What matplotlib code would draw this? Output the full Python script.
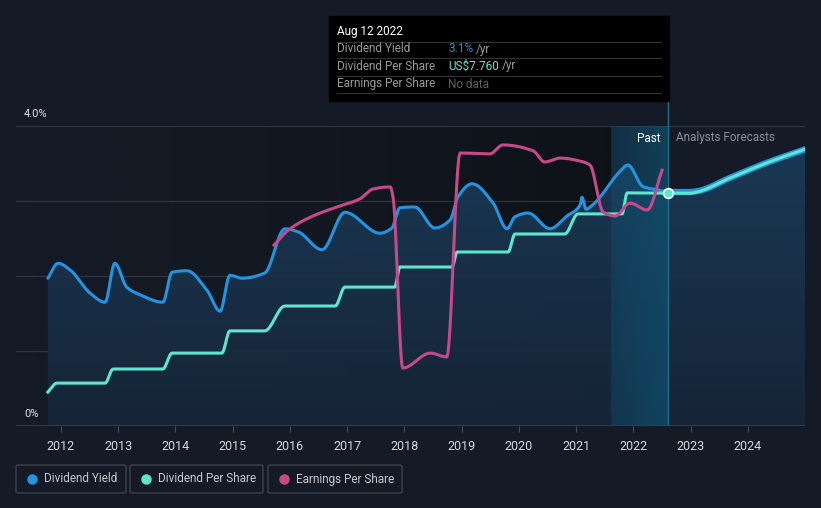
#!/usr/bin/env python3
import numpy as np
import matplotlib
matplotlib.use('Agg')
import matplotlib.pyplot as plt
from matplotlib.patches import Rectangle, FancyBboxPatch

plt.rcParams['font.family'] = ['Roboto', 'DejaVu Sans']

# dividend yield, % (past)
yield_years = [2011.77, 2011.95, 2012.16, 2012.51, 2012.77, 2012.94, 2013.15, 2013.38,
               2013.78, 2013.94, 2014.20, 2014.55, 2014.78, 2014.95, 2015.16, 2015.56,
               2015.91, 2016.14, 2016.56, 2016.96, 2017.57, 2017.78, 2017.92, 2018.18,
               2018.53, 2018.80, 2018.93, 2019.18, 2019.55, 2019.79, 2019.93, 2020.16,
               2020.54, 2020.84, 2021.07, 2021.10, 2021.17, 2021.29, 2021.76, 2021.90,
               2022.17, 2022.41, 2022.61]
yield_pct = [1.97, 2.17, 2.08, 1.77, 1.65, 2.17, 1.85, 1.75,
             1.65, 2.05, 2.07, 1.81, 1.53, 2.01, 1.97, 2.04,
             2.63, 2.59, 2.35, 2.85, 2.57, 2.64, 2.91, 2.92,
             2.64, 2.75, 3.05, 3.23, 2.97, 2.63, 2.79, 2.84,
             2.63, 2.80, 2.95, 3.05, 2.89, 2.95, 3.39, 3.48,
             3.19, 3.15, 3.12]

# forecasts
fc_years = [2022.61, 2022.99, 2023.11, 2023.69, 2024.33, 2025.00]
fc_yield = [3.12, 3.12, 3.13, 3.31, 3.51, 3.69]
fc_dps = [7.76, 7.76, 7.80, 8.27, 8.77, 9.23]

# dividend per share, US$
dps_years = [2011.77, 2011.93, 2012.77, 2012.91, 2013.78, 2013.94, 2014.81, 2014.95,
             2015.56, 2015.91, 2016.79, 2016.96, 2017.83, 2017.92, 2018.83, 2018.92,
             2019.81, 2019.93, 2020.80, 2021.03, 2021.80, 2021.89, 2022.61]
dps = [1.13, 1.43, 1.43, 1.90, 1.90, 2.43, 2.43, 3.17,
       3.17, 4.00, 4.00, 4.63, 4.63, 5.30, 5.30, 5.80,
       5.80, 6.40, 6.40, 7.07, 7.07, 7.77, 7.76]

# earnings per share, US$
eps_years = [2015.72, 2015.97, 2016.40, 2016.82, 2017.22, 2017.45, 2017.75, 2017.80,
             2017.97, 2018.45, 2018.74, 2018.97, 2019.49, 2019.72, 2020.25, 2020.45,
             2020.72, 2021.07, 2021.24, 2021.47, 2021.68, 2021.94, 2022.24, 2022.50]
eps = [6.03, 6.53, 7.00, 7.30, 7.57, 7.90, 7.97, 7.63,
       1.93, 2.43, 2.30, 9.10, 9.07, 9.37, 9.17, 8.80,
       8.93, 8.83, 8.70, 7.13, 7.00, 7.43, 7.20, 8.53]

year_ticks = list(range(2012, 2025))
past_start = 2021.61
today = 2022.61

BG = '#151b26'
BLUE = '#2394df'
TEAL = '#5ee6cf'
PINK = '#c6498a'


def smooth(xs, ys, n=12):
    # monotone cubic curve through the points (like d3 curveMonotoneX), drawing only
    x = np.asarray(xs, float)
    y = np.asarray(ys, float)
    h = np.diff(x)
    d = np.diff(y) / h
    m = np.zeros_like(y)
    m[0], m[-1] = d[0], d[-1]
    for i in range(1, len(y) - 1):
        if d[i - 1] * d[i] <= 0:
            m[i] = 0
        else:
            w1 = 2 * h[i] + h[i - 1]
            w2 = h[i] + 2 * h[i - 1]
            m[i] = (w1 + w2) / (w1 / d[i - 1] + w2 / d[i])
    px, py = [], []
    for i in range(len(h)):
        t = np.linspace(0, 1, n, endpoint=False)
        h00 = 2 * t**3 - 3 * t**2 + 1
        h10 = t**3 - 2 * t**2 + t
        h01 = -2 * t**3 + 3 * t**2
        h11 = t**3 - t**2
        px.extend(x[i] + t * h[i])
        py.extend(h00 * y[i] + h10 * h[i] * m[i] + h01 * y[i + 1] + h11 * h[i] * m[i + 1])
    px.append(x[-1])
    py.append(y[-1])
    return np.array(px), np.array(py)


fig = plt.figure(figsize=(8.21, 5.08), dpi=100, facecolor=BG)
W, H = 821, 508
x0, x1, ytop, ybot = 16, 805, 126, 426
ax = fig.add_axes([x0 / W, 1 - ybot / H, (x1 - x0) / W, (ybot - ytop) / H])
ax.set_facecolor(BG)
xmin, xmax = 2011.214, 2024.996
ax.set_xlim(xmin, xmax)
ax.set_ylim(0, 4)

# darker gradient over the past region
grad = np.linspace(0, 1, 256).reshape(1, -1) ** 1.5
dark = np.zeros((1, 256, 4))
dark[..., :3] = matplotlib.colors.to_rgb('#0b0e13')
dark[..., 3] = grad * 0.75
ax.imshow(dark, extent=[xmin, past_start, 0, 4], aspect='auto', zorder=0)

# grid
for v in [1, 2, 3, 4]:
    ax.axhline(v, color='#2e333d', lw=0.9, zorder=1)
ax.axhline(0, color='#3a3f49', lw=1.2, zorder=5)

# area under yield
sy_x, sy_y = smooth(yield_years + fc_years[1:], yield_pct + fc_yield[1:])
poly = ax.fill_between(sy_x, sy_y, 0, color='none', lw=0, zorder=2)
vgrad = np.linspace(0, 1, 256).reshape(-1, 1)
fill = np.zeros((256, 1, 4))
c_top = np.array(matplotlib.colors.to_rgb('#1b3e5c'))
c_bot = np.array(matplotlib.colors.to_rgb('#17263a'))
fill[..., :3] = (c_top * (1 - vgrad) + c_bot * vgrad).reshape(256, 1, 3)
fill[..., 3] = 0.9
im = ax.imshow(fill, extent=[xmin, xmax, 0, 4], aspect='auto', zorder=2)
im.set_clip_path(poly.get_paths()[0], transform=ax.transData)

# past band
band = np.zeros((1, 256, 4))
band[..., :3] = matplotlib.colors.to_rgb('#0e5576')
band[..., 3] = 0.35 + 0.3 * np.linspace(0, 1, 256)
ax.imshow(band, extent=[past_start, today, 0, 4], aspect='auto', zorder=3)
ax.axvline(today, color='#1f6c8c', lw=1, zorder=3)
ax.plot([today, today], [4, 4.35], color='#1f6c8c', lw=1, clip_on=False, zorder=3)

# lines
ax.plot(*smooth(yield_years, yield_pct), color=BLUE, lw=2.2, zorder=6,
        solid_capstyle='round', solid_joinstyle='round')
ax.plot(*smooth(fc_years, fc_yield), color=BLUE, lw=4.5, zorder=6, solid_capstyle='round')

ax2 = ax.twinx()
ax2.set_ylim(0, 10)
ax2.plot(*smooth(dps_years, dps), color=TEAL, lw=2.2, zorder=6, solid_joinstyle='round')
ax2.plot(*smooth(fc_years, fc_dps), color=TEAL, lw=2.2, zorder=7)
ax2.plot(*smooth(eps_years, eps), color=PINK, lw=2.2, zorder=8, solid_joinstyle='round')
ax2.plot([today], [7.76], 'o', ms=7, mfc=TEAL, mec='white', mew=1.2, zorder=9)

for a in (ax, ax2):
    for s in a.spines.values():
        s.set_visible(False)
    a.set_yticks([])
ax.set_xticks(year_ticks)
ax.set_xticklabels([str(y) for y in year_ticks], color='#d8d8d8', fontsize=9)
ax.tick_params(axis='x', length=4, color='#4a4f58', pad=6)
ax2.tick_params(axis='x', length=0)

# y labels
ax.text(24 / W, 1 - 114 / H, '4.0%', transform=fig.transFigure, color='#e0e0e0',
        fontsize=8, va='center')
ax.text(24 / W, 1 - 414 / H, '0%', transform=fig.transFigure, color='#e0e0e0',
        fontsize=8, va='center')

# Past / forecast labels
ax.text(660 / W, 1 - 138 / H, 'Past', transform=fig.transFigure, color='#ffffff',
        fontsize=8.5, ha='right', va='center')
ax.text(676 / W, 1 - 138 / H, 'Analysts Forecasts', transform=fig.transFigure,
        color='#8a8f99', fontsize=8.5, ha='left', va='center')

# tooltip
fig.patches.append(Rectangle((329 / W, 1 - 101 / H), 340 / W, 85 / H,
                             transform=fig.transFigure, color='#000000', zorder=10))
fig.text(337 / W, 1 - 31 / H, 'Aug 12 2022', color='white', fontsize=8.5,
         va='center', zorder=11)
for yl in [42, 58, 76, 93]:
    fig.add_artist(plt.Line2D([337 / W, 661 / W], [1 - yl / H, 1 - yl / H],
                              color='#333333', lw=0.8, zorder=11))
rows = [('Dividend Yield', '3.1%', BLUE, 49),
        ('Dividend Per Share', 'US$7.760', TEAL, 66),
        ('Earnings Per Share', 'No data', '#5f5f5f', 84)]
for label, val, col, yy in rows:
    fig.text(337 / W, 1 - yy / H, label, color='#9a9a9a', fontsize=8.5,
             va='center', zorder=11)
    t = fig.text(448 / W, 1 - yy / H, val, color=col, fontsize=8.5,
                 va='center', zorder=11)
    if val != 'No data':
        fig.canvas.draw()
        bb = t.get_window_extent()
        fig.text(bb.x1 / W + 3 / W, 1 - yy / H, '/yr', color='#9a9a9a',
                 fontsize=8.5, va='center', zorder=11)

# legend boxes
legend = [('Dividend Yield', BLUE, 16, 126),
          ('Dividend Per Share', TEAL, 130, 263),
          ('Earnings Per Share', PINK, 268, 402)]
for label, col, lx0, lx1 in legend:
    fig.patches.append(FancyBboxPatch((lx0 / W, 1 - 493 / H), (lx1 - lx0) / W, 28 / H,
                                      boxstyle='round,pad=0,rounding_size=0.003',
                                      transform=fig.transFigure, facecolor='none',
                                      edgecolor='#3d424b', lw=1))
    fig.add_artist(plt.Line2D([(lx0 + 16) / W], [1 - 479 / H], marker='o', ms=6.5,
                              color=col, transform=fig.transFigure))
    fig.text((lx0 + 28) / W, 1 - 479 / H, label, color='#c8c8c8', fontsize=8.5,
             va='center')

fig.savefig('out.png', dpi=100, facecolor=BG)
